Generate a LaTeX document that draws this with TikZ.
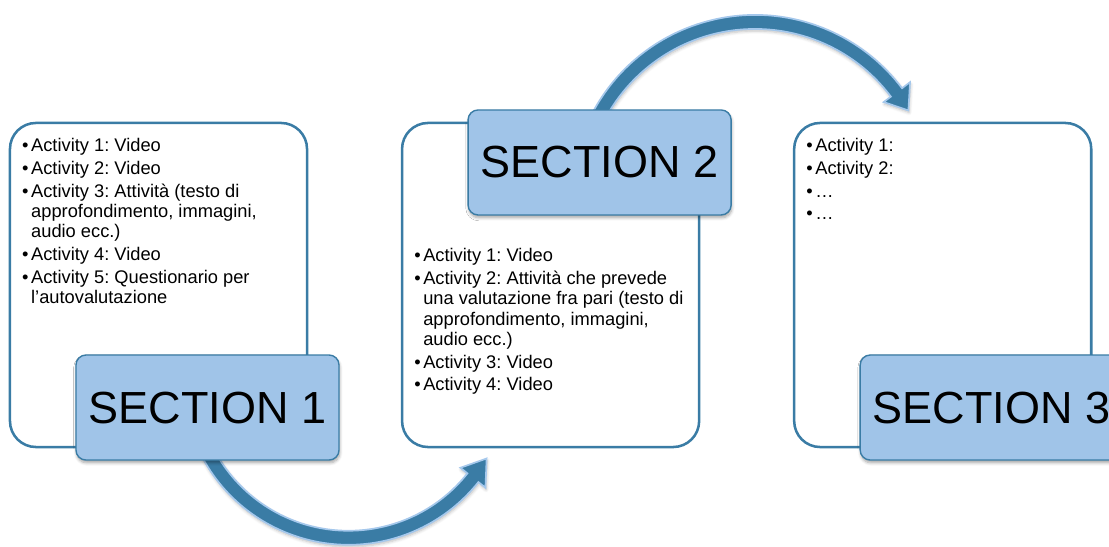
\documentclass[tikz,border=0pt]{standalone}
\usepackage{fontspec}
\setmainfont{Liberation Sans}
\usepackage{array}
\usetikzlibrary{positioning}
\usetikzlibrary{calc}
\usetikzlibrary{shadows.blur}
\pgfdeclarelayer{background}
\pgfsetlayers{background,main}
\definecolor{frameblue}{RGB}{58,124,165}
\definecolor{seclight}{RGB}{160,196,232}
\definecolor{arrowedge}{RGB}{165,200,236}
\frenchspacing

\begin{document}
\begin{tikzpicture}
		[
			x = 0.025cm, y = 0.025cm,
			actbox/.style = {rectangle, rounded corners = 0.65cm, draw = frameblue, line width = 1.8pt, fill = white, minimum width = 7.425cm, minimum height = 8.1cm, inner sep = 0cm, outer sep = 0cm},
			secbox/.style = {rectangle, rounded corners = 0.25cm, draw = frameblue, line width = 1pt, fill = seclight, minimum width = 6.575cm, minimum height = 2.625cm, inner sep = 0cm, outer sep = 0cm, font = \fontsize{32}{38}\selectfont, blur shadow = {shadow xshift = 0.5pt, shadow yshift = -2pt, shadow blur steps = 6, shadow opacity = 35}},
			actlist/.style = {anchor = base west, inner sep = 0cm, font = \fontsize{13}{14.5}\selectfont},
			bendarrow/.style = {fill = frameblue, draw = arrowedge, line width = 1.2pt, line join = miter, blur shadow = {shadow xshift = 0.5pt, shadow yshift = -1.5pt, shadow blur steps = 5, shadow opacity = 25}},
		]
			\useasboundingbox (0,0) rectangle (1109,546);
			%
			\node (box1) [actbox] at (158.5,261) {};
			\node (box2) [actbox, right = 2.375cm of box1] {};
			\node (box3) [actbox, right = 2.375cm of box2] {};
			%
			\node (list1) [actlist] at ($(box1.north west)+(12,-28.5)$) {\begin{tabular}[t]{@{}l@{\hspace{1.8pt}}l@{}}
				\textbullet & Activity 1: Video\\[1.7pt]
				\textbullet & Activity 2: Video\\[1.7pt]
				\textbullet & Activity 3: Attività (testo di\\
				            & approfondimento, immagini,\\
				            & audio ecc.)\\[1.7pt]
				\textbullet & Activity 4: Video\\[1.7pt]
				\textbullet & Activity 5: Questionario per\\
				            & l’autovalutazione
			\end{tabular}};
			\node (list2) [actlist] at ($(box2.north west)+(12,-138.5)$) {\begin{tabular}[t]{@{}l@{\hspace{1.8pt}}l@{}}
				\textbullet & Activity 1: Video\\[1.7pt]
				\textbullet & Activity 2: Attività che prevede\\
				            & una valutazione fra pari (testo di\\
				            & approfondimento, immagini,\\
				            & audio ecc.)\\[1.7pt]
				\textbullet & Activity 3: Video\\[1.7pt]
				\textbullet & Activity 4: Video
			\end{tabular}};
			\node (list3) [actlist] at ($(box3.north west)+(12,-28.5)$) {\begin{tabular}[t]{@{}l@{\hspace{1.8pt}}l@{}}
				\textbullet & Activity 1:\\[1.7pt]
				\textbullet & Activity 2:\\[1.7pt]
				\textbullet & …\\[1.7pt]
				\textbullet & …
			\end{tabular}};
			%
			\node (sec1) [secbox, anchor = south west] at ($(box1.south west)+(66,-13)$) {SECTION 1};
			\node (sec2) [secbox, anchor = north west] at ($(box2.north west)+(66,13)$) {SECTION 2};
			\node (sec3) [secbox, anchor = south west] at ($(box3.south west)+(66,-13)$) {SECTION 3};
			%
			\coordinate (bend1) at ($(sec1.south)+(141,81.3)$);
			\coordinate (bend2) at ($(sec2.north)+(155.5,-89)$);
			%
			\begin{pgfonlayer}{background}
				\filldraw [bendarrow] ($(bend1)+(205:166)$) arc [start angle = 205, end angle = 321.5, radius = 166]
					-- ($(bend1)+(321.5:175)$) -- ($(bend1)+(330:159.5)$) -- ($(bend1)+(321.5:143)$)
					-- ($(bend1)+(321.5:152)$) arc [start angle = 321.5, end angle = 205, radius = 152] -- cycle;
				\filldraw [bendarrow] ($(bend2)+(155:184)$) arc [start angle = 155, end angle = 37, radius = 184]
					-- ($(bend2)+(37:194)$) -- ($(bend2)+(30:177)$) -- ($(bend2)+(37:161)$)
					-- ($(bend2)+(37:170)$) arc [start angle = 37, end angle = 155, radius = 170] -- cycle;
			\end{pgfonlayer}
			%
		\end{tikzpicture}
\end{document}
